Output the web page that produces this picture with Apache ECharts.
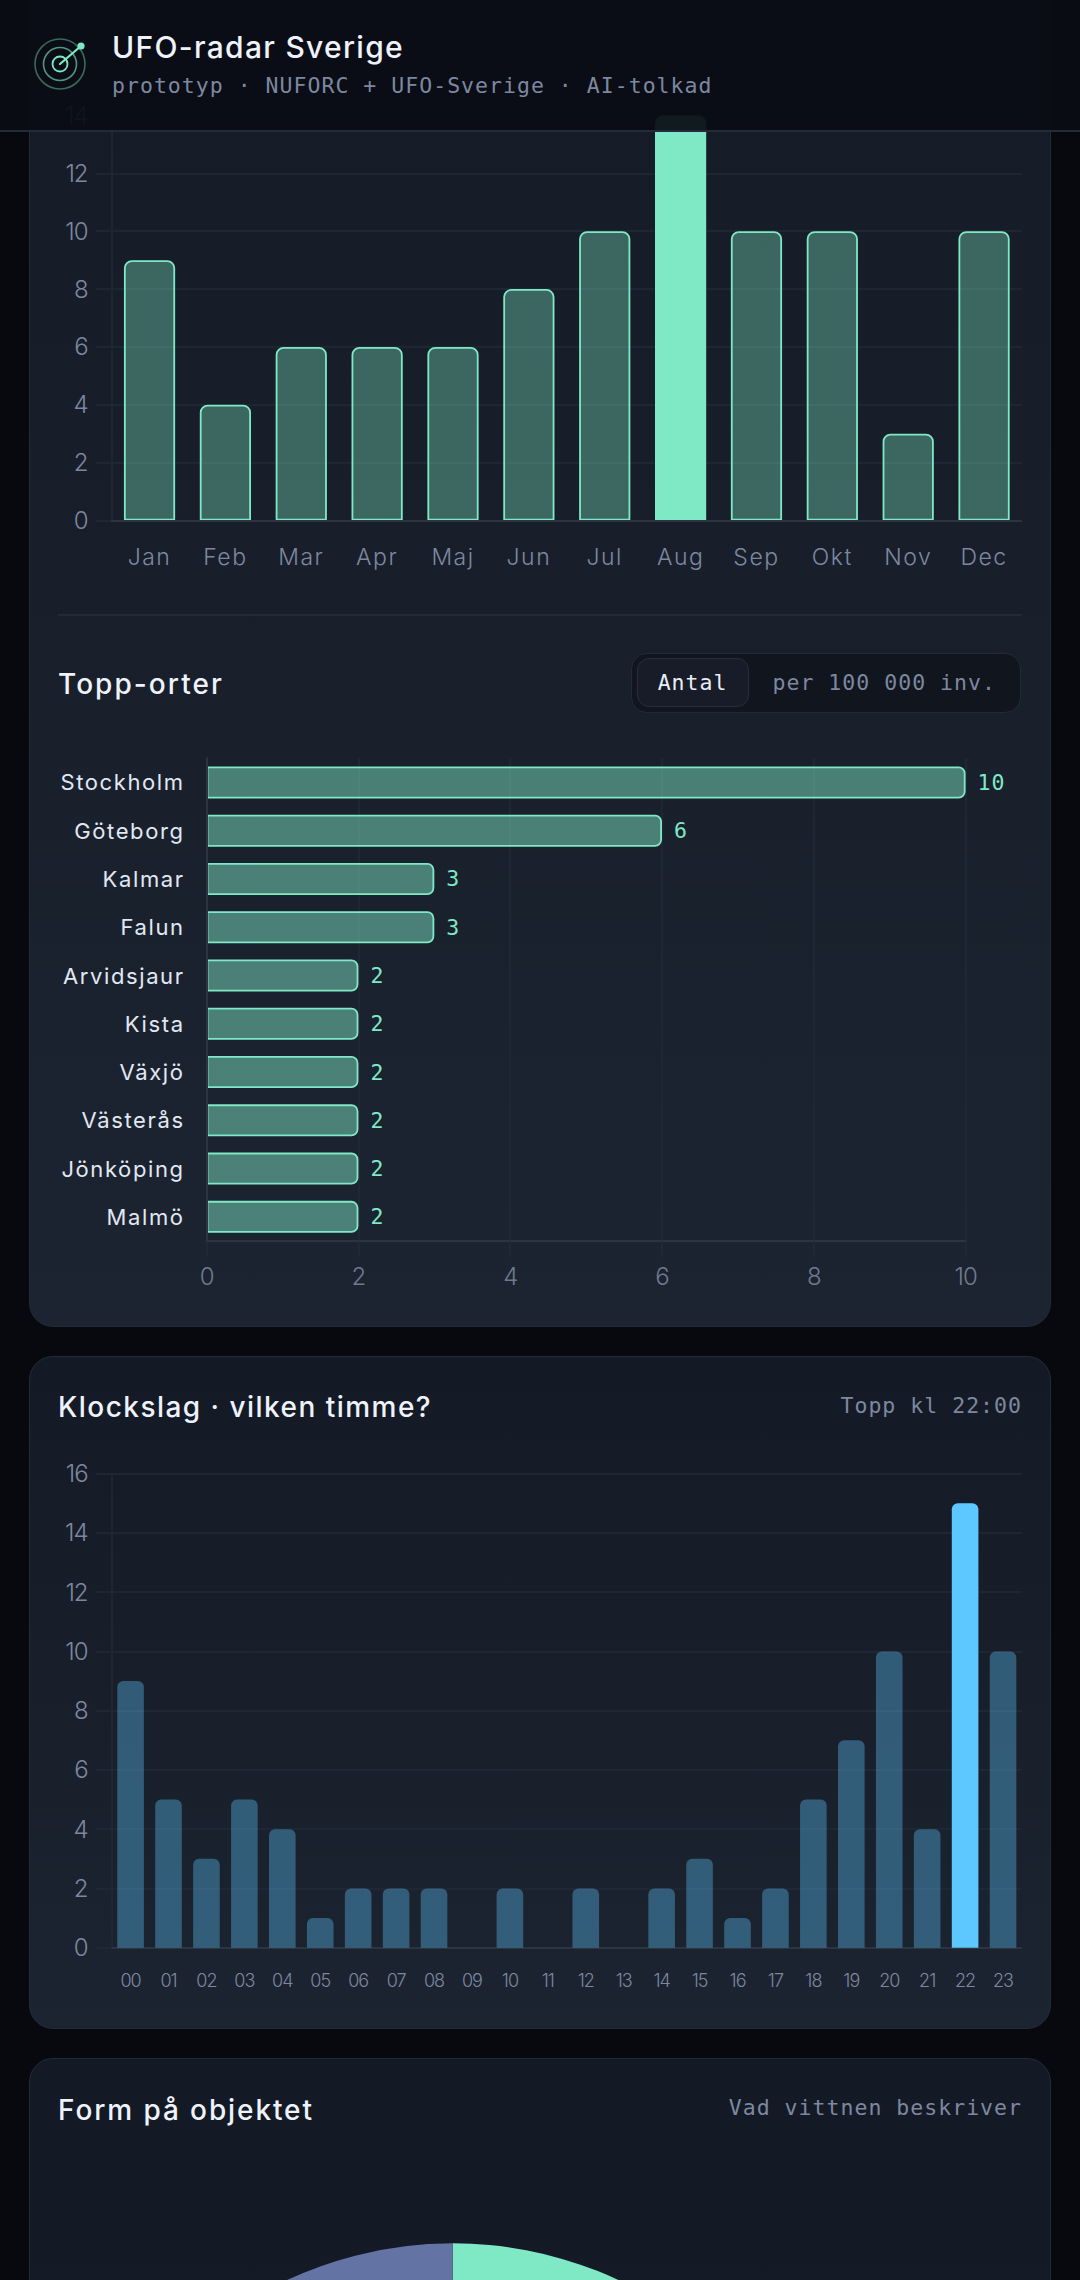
<!DOCTYPE html>
<html lang="sv">
<head>
<meta charset="utf-8">
<title>UFO-radar Sverige</title>
<script src="https://cdn.jsdelivr.net/npm/echarts@6/dist/echarts.min.js"></script>
<style>
  html, body { margin: 0; width: 1080px; height: 2280px; overflow: hidden; background: #07090e; }
  body { position: relative; font-family: Inter, sans-serif; }
  .card { position: absolute; left: 28.5px; width: 1020px; border: 1.5px solid #232b3a; border-radius: 24px;
          background: linear-gradient(180deg, #141a25 0%, #1c2431 100%); }
  .chart { position: absolute; left: 58px; width: 964px; }
  .title { position: absolute; left: 58px; color: #eef2fa; font-weight: 500; font-size: 28px; line-height: 34px; letter-spacing: 1.35px; white-space: nowrap; }
  .note { position: absolute; right: 58px; color: #7d88a0; font-family: "DejaVu Sans Mono", monospace; font-size: 21.5px; line-height: 28px; letter-spacing: 1.02px; white-space: nowrap; }
  .rule { position: absolute; left: 58px; width: 964px; top: 614px; height: 2px; background: #232a37; }
  .toggle { position: absolute; left: 630.5px; top: 652.5px; width: 388.5px; height: 58px; border: 1.5px solid #232a37; border-radius: 16px; background: #11151e; }
  .toggle span { position: absolute; font-family: "DejaVu Sans Mono", monospace; font-size: 21.5px; line-height: 28px; white-space: nowrap; }
  .toggle .on { left: 5px; top: 4.5px; width: 110px; height: 47px; line-height: 47px; text-align: center; color: #e8edf7; background: #171c28; border: 1.5px solid #262e3e; border-radius: 12px; letter-spacing: 1px; }
  .toggle .off { left: 141px; top: 15px; color: #7d88a0; letter-spacing: 1.02px; }
  header { position: absolute; left: 0; top: 0; width: 1080px; height: 130px; background: rgba(10, 13, 20, .94); border-bottom: 2px solid #232b3a; z-index: 10; }
  header svg { position: absolute; left: 30px; top: 34px; }
  header h1 { position: absolute; left: 112px; top: 27px; margin: 0; color: #eef2fa; font-size: 30px; line-height: 40px; font-weight: 500; white-space: nowrap; letter-spacing: 1.3px; }
  header p { position: absolute; left: 112px; top: 72px; margin: 0; color: #7d88a0; font-family: "DejaVu Sans Mono", monospace; font-size: 21.5px; line-height: 28px; letter-spacing: 1.02px; white-space: nowrap; }
  /* tracking for the chart texts, keyed on each text's font stack */
  .chart text[style*="Arial"] { letter-spacing: 1.6px; }
  .chart text[style*="Helvetica"] { letter-spacing: 1.5px; }
  .chart text[style*="sans-serif"] { letter-spacing: -1px; }
  .chart text[style*="monospace"] { letter-spacing: 1px; }
</style>
</head>
<body>
<div class="card" style="top:-150px;height:1475px"></div>
<div class="card" style="top:1356px;height:671px"></div>
<div class="card" style="top:2058px;height:900px;background:linear-gradient(180deg,#141a25 0%,#161c28 100%)"></div>

<div class="chart" id="monthChart" style="top:90px;height:490px"></div>
<div class="rule"></div>
<div class="title" style="top:667px;letter-spacing:2.05px">Topp-orter</div>
<div class="toggle"><span class="on">Antal</span><span class="off">per 100&#8201;000 inv.</span></div>
<div class="chart" id="placeChart" style="top:740px;height:560px"></div>

<div class="title" style="top:1390px;letter-spacing:1.47px">Klockslag · vilken timme?</div>
<div class="note" style="top:1392px">Topp kl 22:00</div>
<div class="chart" id="hourChart" style="top:1450px;height:560px"></div>

<div class="title" style="top:2093px;letter-spacing:1.9px">Form på objektet</div>
<div class="note" style="top:2093.5px">Vad vittnen beskriver</div>
<div class="chart" id="shapeChart" style="top:2180px;height:1000px"></div>

<header>
  <svg width="60" height="60" viewBox="0 0 60 60" fill="none">
    <circle cx="30" cy="30" r="25" stroke="#7fe9c6" stroke-opacity=".42" stroke-width="1.6"/>
    <circle cx="30" cy="30" r="16.5" stroke="#7fe9c6" stroke-opacity=".62" stroke-width="1.6"/>
    <circle cx="30" cy="30" r="7.5" stroke="#7fe9c6" stroke-width="1.8"/>
    <line x1="30" y1="30" x2="51" y2="12" stroke="#7fe9c6" stroke-width="2.2" stroke-linecap="round"/>
    <circle cx="51" cy="12" r="3.6" fill="#7fe9c6"/>
  </svg>
  <h1>UFO-radar Sverige</h1>
  <p>prototyp · NUFORC + UFO-Sverige · AI-tolkad</p>
</header>

<script>
// Sightings per calendar month
const months = ['Jan','Feb','Mar','Apr','Maj','Jun','Jul','Aug','Sep','Okt','Nov','Dec'];
const monthCounts = [9, 4, 6, 6, 6, 8, 10, 14, 10, 10, 3, 10];

// Top places by number of reports
const places = ['Stockholm','Göteborg','Kalmar','Falun','Arvidsjaur','Kista','Växjö','Västerås','Jönköping','Malmö'];
const placeCounts = [10, 6, 3, 3, 2, 2, 2, 2, 2, 2];

// Sightings per hour of the day
const hours = ['00','01','02','03','04','05','06','07','08','09','10','11','12','13','14','15','16','17','18','19','20','21','22','23'];
const hourCounts = [9, 5, 3, 5, 4, 1, 2, 2, 2, 0, 2, 0, 2, 0, 2, 3, 1, 2, 5, 7, 10, 4, 15, 10];

// Reported object shapes
const shapes = ['Ljus','Klot','Oval','Triangel','Cirkel','Cigarr','Annat','Okänd'];
const shapeCounts = [24, 14, 12, 10, 9, 8, 7, 16];

const MINT = '#7fe9c6', SKY = '#5dc8ff', INDIGO = '#6273a4';
const GRID = '#232a37', AXIS = '#2c3442', TICK = '#7d88a0', DIM = '#6f7a90', BRIGHT = '#e2e8f3';
const SANS = 'Inter, sans-serif', PLACE = 'Inter, Arial', MONTH = 'Inter, Helvetica', MONO = '"DejaVu Sans Mono", monospace';

function open(id, option) {
  const chart = echarts.init(document.getElementById(id), null, { renderer: 'svg' });
  chart.setOption(Object.assign({ animation: false, backgroundColor: 'transparent' }, option));
}

function valueAxis(max, step) {
  return {
    type: 'value', min: 0, max: max, interval: step,
    axisLine: { show: true, lineStyle: { color: GRID, width: 1.5 } },
    axisTick: { show: true, length: 16, lineStyle: { color: GRID, width: 1.5 } },
    axisLabel: { color: TICK, fontFamily: SANS, fontSize: 24, fontWeight: 300, margin: 24 },
    splitLine: { show: true, lineStyle: { color: GRID, width: 1.5 } }
  };
}

open('monthChart', {
  grid: { left: 53.6, right: 0, top: 25.5, height: 405 },
  xAxis: {
    type: 'category', data: months, z: 5,
    axisLine: { show: true, lineStyle: { color: AXIS, width: 2 } },
    axisTick: { show: false },
    axisLabel: { color: TICK, fontFamily: MONTH, fontSize: 23, fontWeight: 300, margin: 25, interval: 0 }
  },
  yAxis: valueAxis(14, 2),
  series: [{
    type: 'bar', barWidth: 51.2,
    data: monthCounts.map(function (v) {
      const peak = v === Math.max.apply(null, monthCounts);
      return { value: v, itemStyle: {
        color: peak ? MINT : 'rgba(127,233,198,.36)', borderColor: MINT, borderWidth: 1.8, borderRadius: [7, 7, 0, 0]
      } };
    })
  }]
});

open('placeChart', {
  grid: { left: 148.6, width: 759, top: 18.3, height: 482.7 },
  xAxis: Object.assign(valueAxis(10, 2), {
    axisLine: { show: true, lineStyle: { color: AXIS, width: 2 } },
    axisLabel: { color: DIM, fontFamily: SANS, fontSize: 24, fontWeight: 300, margin: 23 }
  }),
  yAxis: {
    type: 'category', data: places, inverse: true, z: 5,
    axisLine: { show: true, lineStyle: { color: AXIS, width: 2 } },
    axisTick: { show: false },
    axisLabel: { color: BRIGHT, fontFamily: PLACE, fontSize: 22, margin: 22, padding: [0, 0, 2, 0], interval: 0 }
  },
  series: [{
    type: 'bar', data: placeCounts, barWidth: 32,
    itemStyle: { color: 'rgba(127,233,198,.48)', borderColor: MINT, borderWidth: 1.8, borderRadius: [0, 6, 6, 0] },
    label: { show: true, position: 'right', distance: 12, color: MINT, fontFamily: MONO, fontSize: 21.5, padding: [0, 0, 2, 0] }
  }]
});

open('hourChart', {
  grid: { left: 53.6, right: 0, top: 23.7, height: 474 },
  xAxis: {
    type: 'category', data: hours,
    axisLine: { show: true, lineStyle: { color: AXIS, width: 2 } },
    axisTick: { show: false },
    axisLabel: { color: TICK, fontFamily: SANS, fontSize: 18, fontWeight: 300, margin: 24, interval: 0 }
  },
  yAxis: valueAxis(16, 2),
  series: [{
    type: 'bar', barWidth: 26.6,
    data: hourCounts.map(function (v) {
      const peak = v === Math.max.apply(null, hourCounts);
      return { value: v, itemStyle: { color: peak ? SKY : 'rgba(93,200,255,.36)', borderRadius: [6, 6, 0, 0] } };
    })
  }]
});

open('shapeChart', {
  series: [{
    type: 'pie', center: [394.7, 455.7], radius: [0, 392.4], startAngle: 90, clockwise: true,
    label: { show: false }, labelLine: { show: false }, silent: true,
    data: shapes.map(function (name, i) {
      const palette = [MINT, SKY, '#b79cff', '#ffb86b', '#ff7b9c', '#f3e07a', '#4fd1c5', INDIGO];
      return { name: name, value: shapeCounts[i], itemStyle: { color: palette[i] } };
    })
  }]
});
</script>
</body>
</html>
